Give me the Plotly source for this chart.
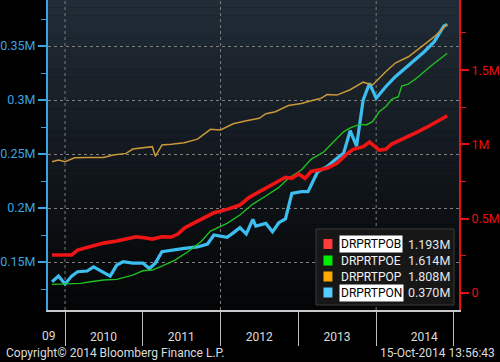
import plotly.graph_objects as go

# ---------------- data (values in millions) ----------------
red_dates = ["2009-11-01","2010-02-01","2010-03-01","2010-05-01","2010-07-01","2010-09-01","2010-10-15",
             "2010-12-01","2011-01-15","2011-02-15","2011-04-01","2011-05-15","2011-06-15","2011-07-15",
             "2011-08-01","2011-10-01","2011-12-01","2012-02-01","2012-04-01","2012-05-15","2012-07-15",
             "2012-09-15","2012-11-01","2012-12-01","2013-01-01","2013-02-01","2013-03-01","2013-05-15",
             "2013-07-01","2013-08-15","2013-09-15","2013-11-01","2013-12-01","2014-01-15","2014-02-15",
             "2014-03-15","2014-05-15","2014-07-15","2014-09-15","2014-12-01"]
red_vals = [0.256,0.256,0.289,0.312,0.336,0.350,0.365,
            0.379,0.370,0.363,0.379,0.377,0.397,0.437,
            0.451,0.496,0.540,0.563,0.592,0.644,0.693,
            0.738,0.779,0.772,0.801,0.772,0.818,0.839,
            0.873,0.935,0.967,0.985,1.016,0.962,0.967,
            1.003,1.041,1.085,1.131,1.193]

green_dates = ["2009-11-01","2010-02-01","2010-03-15","2010-05-01","2010-07-01","2010-09-01","2010-10-15",
               "2010-11-15","2011-01-01","2011-02-15","2011-04-01","2011-05-15","2011-06-01","2011-08-01",
               "2011-10-01","2011-11-15","2012-02-01","2012-04-01","2012-06-01","2012-08-01","2012-10-01",
               "2012-11-15","2013-01-15","2013-03-01","2013-04-15","2013-05-01","2013-06-15","2013-08-01",
               "2013-09-01","2013-10-15","2013-11-15","2013-12-15","2014-01-15","2014-02-15","2014-03-15",
               "2014-04-15","2014-05-01","2014-06-01","2014-07-15","2014-09-15","2014-12-01"]
green_vals = [0.0585,0.0606,0.0653,0.076,0.0875,0.092,0.1097,
              0.121,0.150,0.1548,0.1817,0.2106,0.222,0.278,
              0.345,0.417,0.469,0.525,0.599,0.653,0.711,
              0.772,0.828,0.900,0.940,0.951,1.018,1.085,
              1.112,1.135,1.131,1.153,1.220,1.254,1.303,
              1.321,1.393,1.406,1.452,1.528,1.614]

orange_dates = ["2009-11-01","2009-12-01","2010-01-01","2010-02-15","2010-04-15","2010-07-01","2010-08-15",
                "2010-10-15","2010-11-15","2011-01-15","2011-02-15","2011-03-01","2011-04-01","2011-05-15",
                "2011-07-15","2011-09-15","2011-11-15","2012-01-01","2012-03-01","2012-05-01","2012-07-01",
                "2012-08-01","2012-09-15","2012-11-15","2013-01-15","2013-03-15","2013-04-15","2013-05-15",
                "2013-07-01","2013-09-01","2013-11-01","2013-12-15","2014-01-15","2014-02-15","2014-04-01",
                "2014-06-01","2014-08-01","2014-10-01","2014-12-01"]
orange_vals = [0.884,0.895,0.884,0.910,0.913,0.913,0.929,
               0.940,0.969,0.981,0.985,0.920,0.996,1.001,
               1.011,1.036,1.102,1.097,1.139,1.159,1.176,
               1.207,1.220,1.262,1.275,1.299,1.309,1.336,
               1.332,1.368,1.419,1.400,1.445,1.489,1.548,
               1.590,1.657,1.725,1.808]

blue_dates = ["2009-11-01","2009-12-01","2010-01-01","2010-02-01","2010-03-01","2010-04-15","2010-05-15",
              "2010-06-15","2010-08-01","2010-09-01","2010-10-01","2010-11-15","2011-01-01","2011-02-01",
              "2011-03-01","2011-04-01","2011-05-15","2011-07-15","2011-09-15","2011-11-01","2011-12-01",
              "2012-01-15","2012-02-01","2012-03-01","2012-04-01","2012-05-01","2012-06-01","2012-06-15",
              "2012-08-01","2012-09-01","2012-10-01","2012-11-01","2012-12-01","2013-01-15","2013-02-15",
              "2013-04-01","2013-05-15","2013-07-01","2013-08-01","2013-09-01","2013-10-01","2013-11-01",
              "2013-12-01","2014-01-01","2014-02-15","2014-04-01","2014-05-15","2014-07-01","2014-08-15",
              "2014-10-01","2014-11-15","2014-12-01"]
blue_vals = [0.1318,0.137,0.1296,0.137,0.141,0.1417,0.1456,
             0.142,0.137,0.1472,0.1503,0.149,0.149,0.144,
             0.149,0.1595,0.161,0.1627,0.164,0.1667,0.175,
             0.174,0.1729,0.177,0.1818,0.176,0.1895,0.1833,
             0.1858,0.178,0.1864,0.190,0.2136,0.2151,0.2151,
             0.2336,0.2382,0.246,0.2506,0.2716,0.2574,0.300,
             0.3155,0.3016,0.3123,0.3216,0.3293,0.337,0.3447,
             0.354,0.3685,0.370]

series_names = ["DRPRTPOB", "DRPRTPOE", "DRPRTPOP", "DRPRTPON"]
series_last = ["1.193M", "1.614M", "1.808M", "0.370M"]

year_label_pos = ["2010-07-01", "2011-07-01", "2012-07-01", "2013-07-01", "2014-08-15"]
year_labels = ["2010", "2011", "2012", "2013", "2014"]
year_bounds = ["2010-01-01", "2011-01-01", "2012-01-01", "2013-01-01", "2014-01-01", "2015-01-01"]
vgrid_dates = ["2010-01-01", "2012-01-01", "2014-01-01"]

left_ticks = [0.15, 0.2, 0.25, 0.3, 0.35]
left_text = ["0.15M", "0.2M", "0.25M", "0.3M", "0.35M"]
left_minor = [0.125, 0.175, 0.225, 0.275, 0.325, 0.375]
right_ticks = [0, 0.5, 1, 1.5]
right_text = ["0", "0.5M", "1M", "1.5M"]
right_minor = [0.25, 0.75, 1.25, 1.75]

# ---------------- style ----------------
C_RED = "#f01414"
C_GREEN = "#1fc01f"
C_ORANGE = "#c9983a"
C_BLUE = "#3cbff0"
SW_COLORS = ["#ff3b3b", "#00ee00", "#ffaa00", "#55ccff"]
LEFT_C = "#3aa4e0"
RIGHT_C = "#e81010"
FONT = "Roboto"

fig = go.Figure()
fig.add_trace(go.Scatter(x=orange_dates, y=orange_vals, yaxis="y2", mode="lines",
                         line=dict(color=C_ORANGE, width=1.5), name=series_names[2]))
fig.add_trace(go.Scatter(x=green_dates, y=green_vals, yaxis="y2", mode="lines",
                         line=dict(color=C_GREEN, width=1.4), name=series_names[1]))
fig.add_trace(go.Scatter(x=red_dates, y=red_vals, yaxis="y2", mode="lines",
                         line=dict(color=C_RED, width=3.6), name=series_names[0]))
fig.add_trace(go.Scatter(x=blue_dates, y=blue_vals, yaxis="y", mode="lines",
                         line=dict(color=C_BLUE, width=3.2), name=series_names[3]))

shapes = []
# background gradient for plot area
N = 40
top = (33, 44, 55)
bot = (4, 5, 6)
for i in range(N):
    t = i / (N - 1)
    c = tuple(int(round(top[k] + (bot[k] - top[k]) * t)) for k in range(3))
    shapes.append(dict(type="rect", xref="x domain", yref="y domain",
                       x0=0, x1=1, y0=1 - (i + 1) / N, y1=1 - i / N + 0.001,
                       fillcolor="rgb(%d,%d,%d)" % c, line=dict(width=0), layer="below"))
# vertical dotted grid lines
for d in vgrid_dates:
    shapes.append(dict(type="line", xref="x", yref="y domain", x0=d, x1=d, y0=0, y1=1,
                       line=dict(color="#7c7c7c", width=1, dash="dot"), layer="below"))

# legend box
def px_x(p):
    return (p - 46) / 414.0

def px_y(p):
    return (310 - p) / 310.0

shapes.append(dict(type="rect", xref="paper", yref="paper",
                   x0=px_x(316), x1=px_x(455), y0=px_y(305), y1=px_y(229),
                   fillcolor="rgba(24,24,24,0.95)", line=dict(color="#3a3a3a", width=1), layer="above"))
row_y = [244, 260.5, 276.5, 292.5]
annotations = []
for i in range(4):
    shapes.append(dict(type="rect", xref="paper", yref="paper",
                       x0=px_x(323.5), x1=px_x(332.5), y0=px_y(row_y[i] + 5), y1=px_y(row_y[i] - 5),
                       fillcolor=SW_COLORS[i], line=dict(width=0), layer="above"))
    hl = i in (0, 3)
    annotations.append(dict(xref="paper", yref="paper", x=px_x(339.5), y=px_y(row_y[i]),
                            xanchor="left", yanchor="middle", showarrow=False,
                            text=series_names[i],
                            font=dict(family=FONT, size=12, color="#000000" if hl else "#f2f2f2"),
                            bgcolor="#ffffff" if hl else None, borderpad=1))
    annotations.append(dict(xref="paper", yref="paper", x=px_x(407), y=px_y(row_y[i]),
                            xanchor="left", yanchor="middle", showarrow=False,
                            text=series_last[i],
                            font=dict(family=FONT, size=12.5, color="#e6e6e6")))

annotations.append(dict(xref="paper", yref="paper", x=px_x(2), y=px_y(353), xanchor="left",
                        yanchor="middle", showarrow=False, text="Copyright© 2014 Bloomberg Finance L.P.",
                        font=dict(family=FONT, size=12, color="#dcdcdc")))
annotations.append(dict(xref="paper", yref="paper", x=px_x(498), y=px_y(353), xanchor="right",
                        yanchor="middle", showarrow=False, text="15-Oct-2014 13:56:43",
                        font=dict(family=FONT, size=12, color="#dcdcdc")))
annotations.append(dict(xref="paper", yref="paper", x=px_x(56), y=px_y(336), xanchor="right",
                        yanchor="middle", showarrow=False, text="09",
                        font=dict(family=FONT, size=12, color="#dcdcdc")))

fig.update_layout(
    width=500, height=362, autosize=False,
    margin=dict(l=46, r=40, t=0, b=52, pad=0),
    paper_bgcolor="#000000", plot_bgcolor="rgba(0,0,0,0)",
    showlegend=False,
    shapes=shapes, annotations=annotations,
    font=dict(family=FONT, size=12, color="#dcdcdc"),
    xaxis=dict(type="date", range=["2009-10-13", "2015-01-25"],
               tickmode="array", tickvals=year_label_pos, ticktext=year_labels,
               ticks="outside", ticklen=15, tickcolor="rgba(0,0,0,0)",
               tickfont=dict(family=FONT, size=12, color="#dcdcdc"),
               minor=dict(tickmode="array", tickvals=year_bounds, ticks="outside",
                          ticklen=34, tickcolor="#bdbdbd", tickwidth=1, showgrid=False),
               showgrid=False, zeroline=False,
               showline=True, linecolor="#c8c8c8", linewidth=1.5),
    yaxis=dict(range=[0.1056, 0.3926], side="left",
               tickmode="array", tickvals=left_ticks, ticktext=left_text,
               ticks="outside", ticklen=8, tickwidth=2, tickcolor=LEFT_C,
               tickfont=dict(family=FONT, size=12.5, color=LEFT_C),
               minor=dict(tickmode="array", tickvals=left_minor, ticks="outside",
                          ticklen=5, tickwidth=1, tickcolor=LEFT_C, showgrid=False),
               showgrid=True, gridcolor="#808080", griddash="dot", gridwidth=1,
               zeroline=False, showline=True, linecolor=LEFT_C, linewidth=2),
    yaxis2=dict(range=[-0.114, 1.972], overlaying="y", side="right",
                tickmode="array", tickvals=right_ticks, ticktext=right_text,
                ticks="outside", ticklen=8, tickwidth=2, tickcolor=RIGHT_C,
                tickfont=dict(family=FONT, size=12.5, color=RIGHT_C),
                minor=dict(tickmode="array", tickvals=right_minor, ticks="outside",
                           ticklen=5, tickwidth=1, tickcolor=RIGHT_C, showgrid=False),
                showgrid=False, zeroline=False, showline=True, linecolor=RIGHT_C, linewidth=2),
)

fig.write_html("out.html", config={"displayModeBar": False},
               post_script="document.body.style.margin='0';document.body.style.background='#000';")
